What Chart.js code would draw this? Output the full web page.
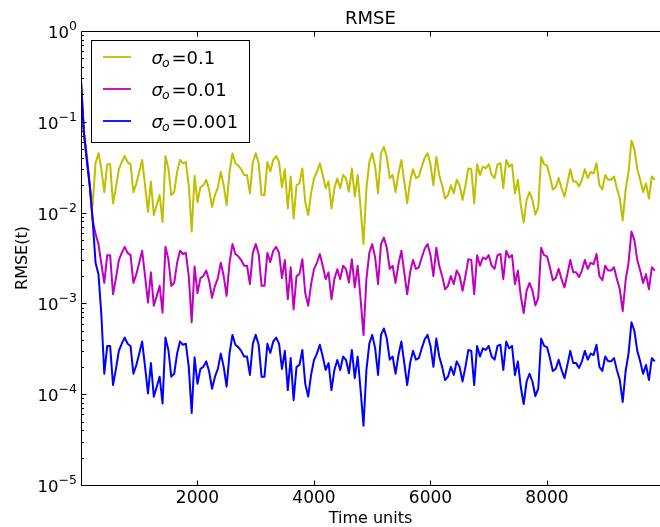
<!DOCTYPE html>
<html>
<head>
<meta charset="utf-8">
<title>RMSE</title>
<script src="https://cdn.jsdelivr.net/npm/chart.js@4.4.1/dist/chart.umd.min.js"></script>
<style>
  html, body { margin: 0; padding: 0; background: #fff; }
  #wrap { width: 660px; height: 527px; }
</style>
</head>
<body>
<div id="wrap"><canvas id="rmse-chart" width="660" height="527"></canvas></div>
<script>
// time axis (time units), one sample every 50 units
const timeUnits = [
    0, 50, 100, 150, 200, 250, 300, 350, 400, 450,
    500, 550, 600, 650, 700, 750, 800, 850, 900, 950,
    1000, 1050, 1100, 1150, 1200, 1250, 1300, 1350, 1400, 1450,
    1500, 1550, 1600, 1650, 1700, 1750, 1800, 1850, 1900, 1950,
    2000, 2050, 2100, 2150, 2200, 2250, 2300, 2350, 2400, 2450,
    2500, 2550, 2600, 2650, 2700, 2750, 2800, 2850, 2900, 2950,
    3000, 3050, 3100, 3150, 3200, 3250, 3300, 3350, 3400, 3450,
    3500, 3550, 3600, 3650, 3700, 3750, 3800, 3850, 3900, 3950,
    4000, 4050, 4100, 4150, 4200, 4250, 4300, 4350, 4400, 4450,
    4500, 4550, 4600, 4650, 4700, 4750, 4800, 4850, 4900, 4950,
    5000, 5050, 5100, 5150, 5200, 5250, 5300, 5350, 5400, 5450,
    5500, 5550, 5600, 5650, 5700, 5750, 5800, 5850, 5900, 5950,
    6000, 6050, 6100, 6150, 6200, 6250, 6300, 6350, 6400, 6450,
    6500, 6550, 6600, 6650, 6700, 6750, 6800, 6850, 6900, 6950,
    7000, 7050, 7100, 7150, 7200, 7250, 7300, 7350, 7400, 7450,
    7500, 7550, 7600, 7650, 7700, 7750, 7800, 7850, 7900, 7950,
    8000, 8050, 8100, 8150, 8200, 8250, 8300, 8350, 8400, 8450,
    8500, 8550, 8600, 8650, 8700, 8750, 8800, 8850, 8900, 8950,
    9000, 9050, 9100, 9150, 9200, 9250, 9300, 9350, 9400, 9450,
    9500, 9550, 9600, 9650, 9700, 9750, 9800, 9850
];

// sigma_o = 0.1
const rmseSigma01 = [
    0.28, 0.08, 0.045, 0.02, 0.012, 0.035, 0.045, 0.03, 1.68e-2, 3.4e-2,
    3.4e-2, 1.26e-2, 1.9e-2, 3.0e-2, 3.6e-2, 4.2e-2, 3.6e-2, 3.4e-2, 1.68e-2, 2.1e-2,
    2.8e-2, 3.8e-2, 2.0e-2, 1.02e-2, 2.2e-2, 9.4e-3, 1.21e-2, 1.56e-2, 7.9e-3, 4.2e-2,
    3.07e-2, 1.56e-2, 1.68e-2, 2.8e-2, 3.8e-2, 3.5e-2, 3.6e-2, 2.0e-2, 6.2e-3, 2.55e-2,
    1.3e-2, 1.9e-2, 2.0e-2, 2.3e-2, 1.78e-2, 1.15e-2, 1.56e-2, 1.9e-2, 2.8e-2, 2.0e-2,
    1.21e-2, 2.8e-2, 4.5e-2, 3.5e-2, 3.3e-2, 3.0e-2, 2.6e-2, 2.6e-2, 1.63e-2, 3.6e-2,
    4.5e-2, 3.5e-2, 1.56e-2, 1.56e-2, 3.6e-2, 2.85e-2, 3.8e-2, 4.2e-2, 3.6e-2, 1.9e-2,
    3.0e-2, 1.11e-2, 2.5e-2, 8.6e-3, 2.0e-2, 2.1e-2, 3.07e-2, 1.3e-2, 9.4e-3, 1.63e-2,
    2.38e-2, 2.8e-2, 3.5e-2, 2.6e-2, 1.85e-2, 2.2e-2, 1.11e-2, 1.85e-2, 2.38e-2, 1.85e-2,
    2.6e-2, 2.38e-2, 1.7e-2, 3.07e-2, 1.5e-2, 2.6e-2, 1.11e-2, 4.5e-3, 1.85e-2, 3.6e-2,
    4.5e-2, 3.2e-2, 1.63e-2, 4.5e-2, 5.3e-2, 4.1e-2, 2.4e-2, 2.6e-2, 1.68e-2, 2.7e-2,
    3.8e-2, 2.2e-2, 1.26e-2, 2.2e-2, 3.0e-2, 2.4e-2, 2.5e-2, 3.2e-2, 4.0e-2, 4.5e-2,
    3.4e-2, 2.0e-2, 4.1e-2, 2.6e-2, 2.0e-2, 1.43e-2, 1.56e-2, 2.0e-2, 1.63e-2, 2.3e-2,
    2.0e-2, 1.38e-2, 2.0e-2, 3.07e-2, 3.0e-2, 1.26e-2, 3.4e-2, 2.6e-2, 3.2e-2, 3.07e-2,
    3.4e-2, 2.6e-2, 2.4e-2, 3.4e-2, 3.5e-2, 1.85e-2, 3.8e-2, 3.2e-2, 3.4e-2, 1.63e-2,
    2.3e-2, 1.2e-2, 7.8e-3, 1.38e-2, 1.68e-2, 1.38e-2, 9.5e-3, 1.15e-2, 4.1e-2, 3.4e-2,
    3.3e-2, 2.5e-2, 1.8e-2, 1.9e-2, 2.4e-2, 1.85e-2, 1.5e-2, 2.1e-2, 3.0e-2, 2.2e-2,
    2.2e-2, 1.95e-2, 2.3e-2, 3.0e-2, 2.4e-2, 2.8e-2, 2.7e-2, 3.5e-2, 2.0e-2, 1.8e-2,
    2.6e-2, 2.3e-2, 2.3e-2, 2.5e-2, 1.85e-2, 1.43e-2, 8.2e-3, 1.8e-2, 2.8e-2, 6.2e-2,
    5.0e-2, 3.0e-2, 2.3e-2, 1.68e-2, 2.1e-2, 1.43e-2, 2.5e-2, 2.3e-2
];

// sigma_o = 0.01
const rmseSigma001 = [
    0.28, 0.075, 0.038, 0.02, 0.0083, 0.0058, 0.0045, 0.0027, 1.68e-3, 3.4e-3,
    3.4e-3, 1.26e-3, 1.9e-3, 3.0e-3, 3.6e-3, 4.2e-3, 3.6e-3, 3.4e-3, 1.68e-3, 2.1e-3,
    2.8e-3, 3.8e-3, 2.0e-3, 1.02e-3, 2.2e-3, 9.4e-4, 1.21e-3, 1.56e-3, 7.9e-4, 4.2e-3,
    3.07e-3, 1.56e-3, 1.68e-3, 2.8e-3, 3.8e-3, 3.5e-3, 3.6e-3, 2.0e-3, 6.2e-4, 2.55e-3,
    1.3e-3, 1.9e-3, 2.0e-3, 2.3e-3, 1.78e-3, 1.15e-3, 1.56e-3, 1.9e-3, 2.8e-3, 2.0e-3,
    1.21e-3, 2.8e-3, 4.5e-3, 3.5e-3, 3.3e-3, 3.0e-3, 2.6e-3, 2.6e-3, 1.63e-3, 3.6e-3,
    4.5e-3, 3.5e-3, 1.56e-3, 1.56e-3, 3.6e-3, 2.85e-3, 3.8e-3, 4.2e-3, 3.6e-3, 1.9e-3,
    3.0e-3, 1.11e-3, 2.5e-3, 8.6e-4, 2.0e-3, 2.1e-3, 3.07e-3, 1.3e-3, 9.4e-4, 1.63e-3,
    2.38e-3, 2.8e-3, 3.5e-3, 2.6e-3, 1.85e-3, 2.2e-3, 1.11e-3, 1.85e-3, 2.38e-3, 1.85e-3,
    2.6e-3, 2.38e-3, 1.7e-3, 3.07e-3, 1.5e-3, 2.6e-3, 1.11e-3, 4.5e-4, 1.85e-3, 3.6e-3,
    4.5e-3, 3.2e-3, 1.63e-3, 4.5e-3, 5.3e-3, 4.1e-3, 2.4e-3, 2.6e-3, 1.68e-3, 2.7e-3,
    3.8e-3, 2.2e-3, 1.26e-3, 2.2e-3, 3.0e-3, 2.4e-3, 2.5e-3, 3.2e-3, 4.0e-3, 4.5e-3,
    3.4e-3, 2.0e-3, 4.1e-3, 2.6e-3, 2.0e-3, 1.43e-3, 1.56e-3, 2.0e-3, 1.63e-3, 2.3e-3,
    2.0e-3, 1.38e-3, 2.0e-3, 3.07e-3, 3.0e-3, 1.26e-3, 3.4e-3, 2.6e-3, 3.2e-3, 3.07e-3,
    3.4e-3, 2.6e-3, 2.4e-3, 3.4e-3, 3.5e-3, 1.85e-3, 3.8e-3, 3.2e-3, 3.4e-3, 1.63e-3,
    2.3e-3, 1.2e-3, 7.8e-4, 1.38e-3, 1.68e-3, 1.38e-3, 9.5e-4, 1.15e-3, 4.1e-3, 3.4e-3,
    3.3e-3, 2.5e-3, 1.8e-3, 1.9e-3, 2.4e-3, 1.85e-3, 1.5e-3, 2.1e-3, 3.0e-3, 2.2e-3,
    2.2e-3, 1.95e-3, 2.3e-3, 3.0e-3, 2.4e-3, 2.8e-3, 2.7e-3, 3.5e-3, 2.0e-3, 1.8e-3,
    2.6e-3, 2.3e-3, 2.3e-3, 2.5e-3, 1.85e-3, 1.43e-3, 8.2e-4, 1.8e-3, 2.8e-3, 6.2e-3,
    5.0e-3, 3.0e-3, 2.3e-3, 1.68e-3, 2.1e-3, 1.43e-3, 2.5e-3, 2.3e-3
];

// sigma_o = 0.001
const rmseSigma0001 = [
    0.28, 0.075, 0.038, 0.02, 0.0083, 0.0028, 0.0021, 7.4e-4, 1.68e-4, 3.4e-4,
    3.4e-4, 1.26e-4, 1.9e-4, 3.0e-4, 3.6e-4, 4.2e-4, 3.6e-4, 3.4e-4, 1.68e-4, 2.1e-4,
    2.8e-4, 3.8e-4, 2.0e-4, 1.02e-4, 2.2e-4, 9.4e-5, 1.21e-4, 1.56e-4, 7.9e-5, 4.2e-4,
    3.07e-4, 1.56e-4, 1.68e-4, 2.8e-4, 3.8e-4, 3.5e-4, 3.6e-4, 2.0e-4, 6.2e-5, 2.55e-4,
    1.3e-4, 1.9e-4, 2.0e-4, 2.3e-4, 1.78e-4, 1.15e-4, 1.56e-4, 1.9e-4, 2.8e-4, 2.0e-4,
    1.21e-4, 2.8e-4, 4.5e-4, 3.5e-4, 3.3e-4, 3.0e-4, 2.6e-4, 2.6e-4, 1.63e-4, 3.6e-4,
    4.5e-4, 3.5e-4, 1.56e-4, 1.56e-4, 3.6e-4, 2.85e-4, 3.8e-4, 4.2e-4, 3.6e-4, 1.9e-4,
    3.0e-4, 1.11e-4, 2.5e-4, 8.6e-5, 2.0e-4, 2.1e-4, 3.07e-4, 1.3e-4, 9.4e-5, 1.63e-4,
    2.38e-4, 2.8e-4, 3.5e-4, 2.6e-4, 1.85e-4, 2.2e-4, 1.11e-4, 1.85e-4, 2.38e-4, 1.85e-4,
    2.6e-4, 2.38e-4, 1.7e-4, 3.07e-4, 1.5e-4, 2.6e-4, 1.11e-4, 4.5e-5, 1.85e-4, 3.6e-4,
    4.5e-4, 3.2e-4, 1.63e-4, 4.5e-4, 5.3e-4, 4.1e-4, 2.4e-4, 2.6e-4, 1.68e-4, 2.7e-4,
    3.8e-4, 2.2e-4, 1.26e-4, 2.2e-4, 3.0e-4, 2.4e-4, 2.5e-4, 3.2e-4, 4.0e-4, 4.5e-4,
    3.4e-4, 2.0e-4, 4.1e-4, 2.6e-4, 2.0e-4, 1.43e-4, 1.56e-4, 2.0e-4, 1.63e-4, 2.3e-4,
    2.0e-4, 1.38e-4, 2.0e-4, 3.07e-4, 3.0e-4, 1.26e-4, 3.4e-4, 2.6e-4, 3.2e-4, 3.07e-4,
    3.4e-4, 2.6e-4, 2.4e-4, 3.4e-4, 3.5e-4, 1.85e-4, 3.8e-4, 3.2e-4, 3.4e-4, 1.63e-4,
    2.3e-4, 1.2e-4, 7.8e-5, 1.38e-4, 1.68e-4, 1.38e-4, 9.5e-5, 1.15e-4, 4.1e-4, 3.4e-4,
    3.3e-4, 2.5e-4, 1.8e-4, 1.9e-4, 2.4e-4, 1.85e-4, 1.5e-4, 2.1e-4, 3.0e-4, 2.2e-4,
    2.2e-4, 1.95e-4, 2.3e-4, 3.0e-4, 2.4e-4, 2.8e-4, 2.7e-4, 3.5e-4, 2.0e-4, 1.8e-4,
    2.6e-4, 2.3e-4, 2.3e-4, 2.5e-4, 1.85e-4, 1.43e-4, 8.2e-5, 1.8e-4, 2.8e-4, 6.2e-4,
    5.0e-4, 3.0e-4, 2.3e-4, 1.68e-4, 2.1e-4, 1.43e-4, 2.5e-4, 2.3e-4
];

const sigmaLabels = ['0.1', '0.01', '0.001'];
const seriesColors = ['#bfbf00', '#bf00bf', '#0000ff'];
const xTickValues = [2000, 4000, 6000, 8000];
const yTickExponents = [0, -1, -2, -3, -4, -5];

const FONT = '"DejaVu Sans", sans-serif';

function toPoints(values) {
    return timeUnits.map((t, i) => ({ x: t, y: values[i] }));
}

// matplotlib-like axes: spines, inward ticks, math-style labels, legend
const axesDecor = {
    id: 'axesDecor',
    afterDatasetsDraw(chart) {
        const { ctx, chartArea: a, scales: { x, y } } = chart;
        ctx.save();
        ctx.strokeStyle = '#000';
        ctx.fillStyle = '#000';
        ctx.lineWidth = 1;

        // spines
        const L = Math.round(a.left) + 0.5, T = Math.round(a.top) + 0.5, B = Math.round(a.bottom) + 0.5;
        ctx.beginPath();
        ctx.moveTo(a.right + 2, T); ctx.lineTo(L, T); ctx.lineTo(L, B); ctx.lineTo(a.right + 2, B);
        ctx.stroke();

        // x ticks (bottom and top, pointing inward)
        ctx.beginPath();
        xTickValues.forEach(v => {
            const px = Math.round(x.getPixelForValue(v)) + 0.5;
            ctx.moveTo(px, B); ctx.lineTo(px, B - 5);
            ctx.moveTo(px, T); ctx.lineTo(px, T + 5);
        });
        // y major and minor ticks
        yTickExponents.forEach(e => {
            const py = Math.round(y.getPixelForValue(Math.pow(10, e))) + 0.5;
            ctx.moveTo(L, py); ctx.lineTo(L + 5, py);
            if (e < 0) {
                for (let m = 2; m <= 9; m++) {
                    const pm = Math.round(y.getPixelForValue(m * Math.pow(10, e))) + 0.5;
                    ctx.moveTo(L, pm); ctx.lineTo(L + 2.5, pm);
                }
            }
        });
        ctx.stroke();

        // x tick labels
        ctx.font = '17px ' + FONT;
        ctx.textAlign = 'center';
        ctx.textBaseline = 'alphabetic';
        xTickValues.forEach(v => {
            ctx.fillText(String(v), x.getPixelForValue(v), a.bottom + 18);
        });

        // y tick labels: 10 with superscript exponent
        ctx.textAlign = 'left';
        yTickExponents.forEach(e => {
            const py = y.getPixelForValue(Math.pow(10, e));
            const sup = e < 0 ? '\u2212' + Math.abs(e) : String(e);
            ctx.font = '16.5px ' + FONT;
            const wBase = ctx.measureText('10').width;
            ctx.font = '12.5px ' + FONT;
            const wSup = ctx.measureText(sup).width;
            const x0 = a.left - 4 - wBase - wSup;
            ctx.font = '16.5px ' + FONT;
            ctx.fillText('10', x0, py + 7);
            ctx.font = '12.5px ' + FONT;
            ctx.fillText(sup, x0 + wBase, py - 1);
        });

        // title and axis titles
        const cx = (a.left + a.right) / 2;
        ctx.textAlign = 'center';
        ctx.font = '18px ' + FONT;
        ctx.fillText('RMSE', cx, 24);
        ctx.font = '16px ' + FONT;
        ctx.fillText('Time units', cx, 523);
        ctx.save();
        ctx.translate(26.5, (a.top + a.bottom) / 2);
        ctx.rotate(-Math.PI / 2);
        ctx.fillText('RMSE(t)', 0, 0);
        ctx.restore();

        // legend
        const lx = 91, ly = 40, lw = 159, lh = 103;
        ctx.fillStyle = '#fff';
        ctx.fillRect(lx, ly, lw, lh);
        ctx.strokeStyle = '#000';
        ctx.strokeRect(lx + 0.5, ly + 0.5, lw - 1, lh - 1);
        const rows = [57, 89, 121];
        ctx.textAlign = 'left';
        rows.forEach((ry, i) => {
            ctx.strokeStyle = seriesColors[i];
            ctx.lineWidth = 1.8;
            ctx.beginPath();
            ctx.moveTo(103, ry); ctx.lineTo(131, ry);
            ctx.stroke();
            ctx.fillStyle = '#000';
            ctx.font = 'italic 18px ' + FONT;
            ctx.fillText('\u03c3', 151.5, ry + 6.5);
            const ws = ctx.measureText('\u03c3').width;
            ctx.font = 'italic 12.5px ' + FONT;
            ctx.fillText('o', 151.5 + ws - 1, ry + 10);
            ctx.font = '18px ' + FONT;
            ctx.fillText('=' + sigmaLabels[i], 171.5, ry + 6.5);
        });
        ctx.restore();
    }
};

const ctx = document.getElementById('rmse-chart').getContext('2d');
window.rmseChart = new Chart(ctx, {
    type: 'line',
    data: {
        datasets: [
            { label: '\u03c3o=' + sigmaLabels[0], data: toPoints(rmseSigma01), borderColor: seriesColors[0], order: 3 },
            { label: '\u03c3o=' + sigmaLabels[1], data: toPoints(rmseSigma001), borderColor: seriesColors[1], order: 2 },
            { label: '\u03c3o=' + sigmaLabels[2], data: toPoints(rmseSigma0001), borderColor: seriesColors[2], order: 1 }
        ]
    },
    options: {
        responsive: false,
        animation: false,
        devicePixelRatio: 1,
        layout: { padding: { left: 81, top: 31, right: -7, bottom: 42 } },
        elements: {
            line: { borderWidth: 2, tension: 0, fill: false, borderJoinStyle: 'round' },
            point: { radius: 0 }
        },
        plugins: {
            legend: { display: false },
            tooltip: { enabled: false },
            title: { display: false }
        },
        scales: {
            x: { type: 'linear', min: 0, max: 9940, display: false },
            y: { type: 'logarithmic', min: 1e-5, max: 1, display: false }
        }
    },
    plugins: [axesDecor]
});
</script>
</body>
</html>
